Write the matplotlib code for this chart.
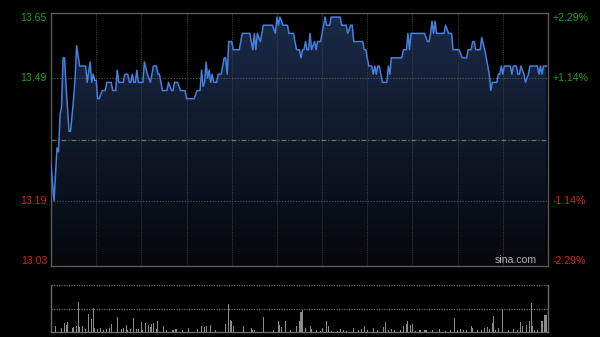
import numpy as np
import matplotlib
matplotlib.use('Agg')
import matplotlib.pyplot as plt
from matplotlib.colors import LinearSegmentedColormap
import matplotlib.transforms as mtransforms

# minute of session (0..330) and price at that minute
minutes = [0, 2, 4, 5, 6, 7, 8, 9, 10, 12, 13, 15, 16, 17, 19, 23, 24, 26, 27, 28,
           29, 30, 31, 32, 34, 36, 37, 40, 41, 43, 44, 45, 48, 49, 51, 52, 53, 54, 55, 56,
           57, 58, 61, 62, 64, 66, 67, 68, 70, 71, 72, 74, 77, 78, 80, 81, 82, 84, 86, 89,
           90, 95, 97, 99, 100, 101, 102, 103, 104, 105, 106, 107, 108, 110, 111, 113, 115, 116, 117, 118,
           120, 121, 125, 127, 132, 133, 134, 135, 136, 137, 139, 140, 141, 147, 149, 150, 151, 152, 154, 157,
           158, 161, 163, 165, 166, 167, 168, 169, 170, 171, 172, 173, 175, 176, 177, 179, 180, 181, 182, 183,
           185, 186, 192, 193, 196, 197, 199, 200, 201, 207, 208, 209, 210, 211, 213, 214, 215, 216, 217, 218,
           219, 220, 223, 224, 225, 226, 233, 234, 236, 237, 238, 239, 240, 248, 250, 251, 252, 253, 254, 255,
           256, 261, 262, 264, 266, 267, 271, 273, 276, 277, 279, 280, 281, 282, 285, 286, 288, 289, 290, 291,
           292, 293, 296, 297, 298, 299, 300, 301, 305, 306, 307, 309, 310, 311, 312, 314, 315, 317, 318, 323,
           324, 325, 326, 327, 329]
prices = [13.28, 13.19, 13.32, 13.31, 13.40, 13.42, 13.54, 13.54, 13.47, 13.36, 13.36, 13.44, 13.49, 13.57, 13.52, 13.52, 13.48, 13.53, 13.48, 13.50,
          13.485, 13.485, 13.44, 13.44, 13.46, 13.46, 13.48, 13.48, 13.46, 13.46, 13.51, 13.48, 13.48, 13.50, 13.50, 13.48, 13.48, 13.50, 13.48, 13.48,
          13.51, 13.48, 13.48, 13.53, 13.50, 13.48, 13.50, 13.52, 13.52, 13.50, 13.50, 13.46, 13.46, 13.48, 13.46, 13.46, 13.48, 13.48, 13.46, 13.46,
          13.44, 13.44, 13.46, 13.46, 13.51, 13.47, 13.48, 13.53, 13.49, 13.51, 13.48, 13.50, 13.48, 13.48, 13.50, 13.50, 13.54, 13.54, 13.50, 13.58,
          13.58, 13.56, 13.56, 13.60, 13.60, 13.58, 13.56, 13.60, 13.56, 13.60, 13.58, 13.60, 13.62, 13.62, 13.60, 13.64, 13.62, 13.64, 13.62, 13.62,
          13.60, 13.60, 13.56, 13.56, 13.54, 13.56, 13.56, 13.58, 13.56, 13.56, 13.60, 13.56, 13.58, 13.56, 13.58, 13.58, 13.60, 13.62, 13.64, 13.62,
          13.62, 13.64, 13.64, 13.62, 13.62, 13.60, 13.62, 13.62, 13.58, 13.58, 13.56, 13.56, 13.54, 13.52, 13.52, 13.50, 13.52, 13.50, 13.52, 13.52,
          13.50, 13.48, 13.48, 13.52, 13.50, 13.54, 13.54, 13.56, 13.56, 13.60, 13.56, 13.60, 13.60, 13.60, 13.58, 13.58, 13.60, 13.63, 13.60, 13.63,
          13.60, 13.60, 13.62, 13.60, 13.60, 13.56, 13.56, 13.54, 13.54, 13.56, 13.56, 13.58, 13.58, 13.56, 13.56, 13.59, 13.56, 13.54, 13.52, 13.50,
          13.46, 13.48, 13.48, 13.50, 13.50, 13.52, 13.50, 13.52, 13.52, 13.50, 13.52, 13.52, 13.50, 13.50, 13.52, 13.50, 13.48, 13.50, 13.52, 13.52,
          13.50, 13.52, 13.50, 13.52, 13.52]

# volume bars (relative units)
vol_minutes = [3, 7, 9, 10, 11, 14, 15, 17, 18, 19, 21, 23, 25, 27, 28, 29, 31, 33, 35, 37,
               39, 40, 44, 47, 48, 50, 51, 53, 55, 57, 58, 60, 61, 63, 65, 66, 67, 68, 70, 71,
               75, 77, 81, 83, 87, 91, 97, 100, 102, 103, 106, 109, 116, 118, 119, 120, 121, 128, 133, 134,
               135, 141, 148, 151, 152, 153, 156, 159, 163, 165, 166, 167, 169, 172, 173, 176, 179, 180, 183, 184,
               186, 190, 192, 194, 196, 201, 204, 206, 208, 210, 214, 217, 221, 222, 224, 226, 228, 232, 234, 236,
               237, 239, 240, 242, 245, 248, 249, 253, 258, 262, 265, 268, 270, 272, 274, 276, 279, 280, 283, 286,
               288, 290, 291, 293, 294, 295, 297, 300, 304, 307, 310, 312, 313, 316, 318, 319, 320, 321, 323, 326,
               328, 329]
vol_values = [6.3, 4, 9, 7.3, 9.7, 4, 5, 5.7, 30, 5, 6.3, 3, 18, 13.3, 24, 4, 3, 3.7, 2.3, 3,
              4, 8.3, 15, 3, 4, 7.3, 2.3, 3, 14, 3, 3.3, 10, 2.3, 9, 7.3, 5, 8.3, 9, 3, 11.3,
              5.7, 1.7, 2.3, 3, 1.7, 3.7, 3, 6.3, 5, 6.3, 7.3, 2.3, 8.3, 28, 12.3, 10.7, 6.3, 6.3, 4, 2.3,
              1.7, 15, 1.7, 10.7, 7.3, 5, 11.3, 1.7, 6.3, 10.7, 19.7, 21.7, 4, 6.3, 3, 1.7, 1.3, 4, 11.3, 5.7,
              1.3, 1.3, 3.3, 1.7, 1.3, 4, 1.7, 3, 5.7, 2.3, 3.7, 2.3, 5, 9.7, 1.7, 3, 1.7, 1.7, 5.7, 8.3,
              11.3, 7.3, 8, 1.3, 1.7, 2, 2, 1.7, 3, 1.3, 2.3, 14.3, 2.3, 3, 2.3, 1.7, 5.7, 4, 2.3, 1.7,
              4, 5, 3, 9, 16.3, 2.3, 4, 23, 1.7, 3, 2.3, 10, 5.7, 7.3, 10.7, 29, 5.7, 2.3, 1.7, 10.7,
              16.7, 17.3]

prev_close = 13.34
left_ticks = [13.65, 13.49, 13.19, 13.03]
right_ticks = ['+2.29%', '+1.14%', '-1.14%', '-2.29%']
grid_minutes = [30, 60, 90, 120, 150, 180, 210, 240, 270, 300]

green = '#1f9e1f'
red = '#d8231c'
frame = '#5a5a5a'

fig = plt.figure(figsize=(6, 3.37), dpi=100, facecolor='black')
ax = fig.add_axes([51 / 600, 1 - 266 / 337, 497 / 600, 253 / 337])
ax.set_facecolor('black')
ax.set_xlim(0, 330)
ax.set_ylim(13.03, 13.65)

# gradient area under the line
cmap = LinearSegmentedColormap.from_list('fill', ['#05070b', '#1a2a48'])
grad = np.linspace(0, 1, 256).reshape(-1, 1)
img = ax.imshow(grad, cmap=cmap, aspect='auto', origin='lower',
                extent=[0, 330, 13.03, 13.65], zorder=1)
poly = ax.fill_between(minutes, prices, 13.03, color='none', zorder=1)
img.set_clip_path(poly.get_paths()[0], transform=ax.transData)

# grid
for m in grid_minutes:
    ax.axvline(m, color='#3c3c3c', lw=0.8, linestyle=(0, (1, 1)), zorder=2)
for v in [13.49, 13.19]:
    ax.axhline(v, color='#5c5c5c', lw=0.8, linestyle=(0, (1, 1.5)), zorder=2)
ax.axhline(prev_close, color='#6e6e6e', lw=0.9, linestyle=(0, (4, 1.5, 1, 1.5)), zorder=2)

ax.plot(minutes, prices, color='#4580de', lw=1.1, zorder=3)

for s in ax.spines.values():
    s.set_color(frame)
    s.set_linewidth(1)
ax.set_xticks([])
ax.set_yticks([])

trans_l = mtransforms.blended_transform_factory(ax.transAxes, ax.transData)
font = dict(family='Liberation Sans', fontsize=7.6)
for i, v in enumerate(left_ticks):
    col = green if v > prev_close else red
    va = 'center'
    y = v
    if i == 0:
        va = 'top'
    if i == len(left_ticks) - 1:
        va = 'bottom'
    ax.text(-0.008, y, f'{v:.2f}', color=col, ha='right', va=va, transform=trans_l, **font)
    ax.text(1.01, y, right_ticks[i], color=col, ha='left', va=va, transform=trans_l, **font)

ax.text(0.978, 0.004, 'sina.com', color='#b4b4b4', ha='right', va='bottom',
        transform=ax.transAxes, family='Liberation Sans', fontsize=7.6)

# volume panel
axv = fig.add_axes([51 / 600, 1 - 332 / 337, 497 / 600, 47 / 337])
axv.set_facecolor('black')
axv.set_xlim(0, 330)
axv.set_ylim(0, 47)
axv.bar(vol_minutes, vol_values, width=0.7, color='#8c8c8c', zorder=3)
axv.axhline(47, color='#6a6a6a', lw=0.9, linestyle=(0, (1, 1)), zorder=2)
axv.axhline(23.5, color='#6a6a6a', lw=0.9, linestyle=(0, (1, 1)), zorder=2)
axv.spines['top'].set_visible(False)
for k in ['left', 'right', 'bottom']:
    axv.spines[k].set_color('#6a6a6a')
    axv.spines[k].set_linewidth(1)
axv.set_xticks([])
axv.set_yticks([])

fig.savefig('out.png', dpi=100, facecolor='black')
